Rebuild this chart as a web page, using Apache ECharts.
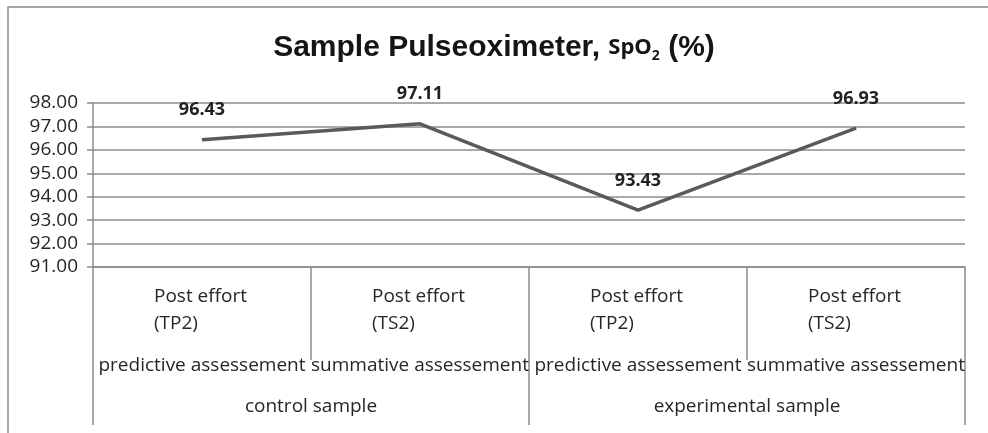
<!DOCTYPE html>
<html>
<head>
<meta charset="utf-8">
<title>Sample Pulseoximeter</title>
<script src="https://cdn.jsdelivr.net/npm/echarts@6/dist/echarts.min.js"></script>
<style>
    html, body {
        margin: 0;
        padding: 0;
        background: #fff;
    }

    #main {
        width: 988px;
        height: 433px;
    }
</style>
</head>
<body>
<div id="main"></div>
<script>
// data
var moments = ['Post effort\n(TP2)', 'Post effort\n(TS2)', 'Post effort\n(TP2)', 'Post effort\n(TS2)'];
var assessments = ['predictive assessement', 'summative assessement', 'predictive assessement', 'summative assessement'];
var samples = ['control sample', 'experimental sample'];
var spo2 = [96.43, 97.11, 93.43, 96.93];
var yTicks = { min: 91, max: 98, step: 1 };

var gray = '#8c8c8c';
var textColor = '#262626';
var labelFont = "'Open Sans', 'Noto Sans', sans-serif";

var chart = echarts.init(document.getElementById('main'));

// 两行的类别文字：整体居中，行内左对齐
function momentLabel(val) {
    return val.split('\n').map(function (line) {
        return '{m|' + line + '}';
    }).join('\n');
}

var option = {
    backgroundColor: '#fff',
    animation: false,
    title: {
        text: '{a|Sample Pulseoximeter, }{b|SpO}{s|2}{a| (%)}',
        left: 'center',
        top: 28,
        textStyle: {
            fontWeight: 'normal',
            rich: {
                a: { fontFamily: "'Liberation Sans', sans-serif", fontSize: 30, fontWeight: 'bold', color: '#151515' },
                b: { fontFamily: labelFont, fontSize: 22, fontWeight: 'bold', color: '#151515' },
                s: { fontFamily: labelFont, fontSize: 14, fontWeight: 'bold', color: '#151515', verticalAlign: 'bottom' }
            }
        }
    },
    graphic: [
        {
            type: 'polyline',
            silent: true,
            shape: { points: [[8, 433], [8, 7], [988, 7]] },
            style: { stroke: '#8a8a8a', lineWidth: 1.5, fill: null }
        }
    ],
    grid: {
        left: 93,
        right: 23,
        top: 103,
        bottom: 166
    },
    xAxis: [
        {
            type: 'category',
            data: moments,
            boundaryGap: true,
            axisLine: { show: true, lineStyle: { color: gray, width: 1.5 } },
            axisTick: { show: true, interval: 0, length: 93, lineStyle: { color: gray, width: 1.5 } },
            axisLabel: {
                interval: 0,
                margin: 16,
                formatter: momentLabel,
                rich: {
                    m: {
                        width: 96,
                        align: 'left',
                        fontFamily: labelFont,
                        fontSize: 19,
                        lineHeight: 27,
                        color: textColor
                    }
                }
            }
        },
        {
            type: 'category',
            data: assessments,
            position: 'bottom',
            boundaryGap: true,
            axisLine: { show: false },
            axisTick: { show: false },
            axisLabel: {
                interval: 0,
                margin: 89,
                fontFamily: labelFont,
                fontSize: 19,
                lineHeight: 20,
                color: textColor
            }
        },
        {
            type: 'category',
            data: samples,
            position: 'bottom',
            boundaryGap: true,
            axisLine: { show: false },
            axisTick: { show: true, interval: 0, length: 158, lineStyle: { color: gray, width: 1.5 } },
            axisLabel: {
                interval: 0,
                margin: 130,
                fontFamily: labelFont,
                fontSize: 19,
                lineHeight: 20,
                color: textColor
            }
        }
    ],
    yAxis: {
        type: 'value',
        min: yTicks.min,
        max: yTicks.max,
        interval: yTicks.step,
        axisLine: { show: true, lineStyle: { color: gray, width: 1.5 } },
        axisTick: { show: true, length: 6, lineStyle: { color: gray, width: 1.5 } },
        splitLine: { show: true, lineStyle: { color: gray, width: 1.5 } },
        axisLabel: {
            margin: 15,
            fontFamily: labelFont,
            fontSize: 19,
            color: textColor,
            formatter: function (v) {
                return v.toFixed(2);
            }
        }
    },
    series: [
        {
            type: 'line',
            data: spo2,
            xAxisIndex: 0,
            symbol: 'circle',
            symbolSize: 1,
            itemStyle: { color: '#5a5a5a' },
            lineStyle: { color: '#5a5a5a', width: 3.5 },
            label: {
                show: true,
                position: 'top',
                distance: 20,
                fontFamily: labelFont,
                fontSize: 18,
                fontWeight: 'bold',
                color: '#222',
                formatter: function (p) {
                    return p.value.toFixed(2);
                }
            }
        }
    ]
};

chart.setOption(option);
</script>
</body>
</html>
